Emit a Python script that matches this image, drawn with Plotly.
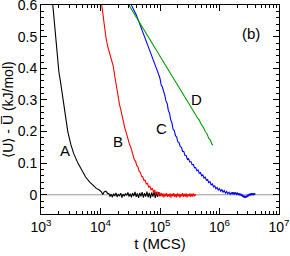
import plotly.graph_objects as go

# ---- data (log10 of t in MCS, and <U> - Ubar in kJ/mol) ----
logt_A = [3.17, 3.20, 3.23, 3.26, 3.28, 3.30, 3.33, 3.37, 3.41, 3.45, 3.50, 3.55, 3.62, 3.68, 3.75,
          3.82, 3.88, 3.93, 3.98, 4.01, 4.04, 4.06, 4.09, 4.12,
          4.14, 4.16, 4.18, 4.20, 4.22, 4.24, 4.26, 4.28, 4.30, 4.32, 4.34, 4.36, 4.38, 4.40, 4.42,
          4.44, 4.46, 4.48, 4.50, 4.52, 4.54, 4.56, 4.58, 4.60, 4.62, 4.64, 4.66, 4.68, 4.70, 4.72,
          4.74, 4.76, 4.78, 4.80, 4.82, 4.84, 4.86, 4.88, 4.90, 4.92, 4.94, 4.96, 4.98, 5.00]
dU_A = [0.66, 0.60, 0.53, 0.46, 0.42, 0.39, 0.355, 0.30, 0.25, 0.20, 0.16, 0.13, 0.10, 0.078, 0.056,
        0.040, 0.028, 0.020, 0.015, 0.010, 0.001, 0.009, 0.011, 0.004,
        0.004, -0.006, 0.002, -0.008, 0.003, -0.004, 0.006, -0.007, 0.001, -0.003, 0.005, -0.009, 0.002, -0.005, 0.004,
        -0.002, 0.007, -0.006, 0.003, -0.008, 0.005, -0.004, 0.009, -0.007, 0.004, -0.010, 0.006, -0.005, 0.008, -0.009,
        0.005, -0.006, 0.010, -0.008, 0.006, -0.011, 0.007, -0.006, 0.009, -0.010, 0.006, -0.007, 0.008, -0.005]

logt_B = [3.98, 4.02, 4.06, 4.09, 4.12, 4.15, 4.18, 4.215, 4.24, 4.26, 4.28, 4.30, 4.32, 4.34, 4.37, 4.41,
          4.43, 4.45, 4.47, 4.49, 4.51, 4.53, 4.55, 4.57, 4.59, 4.61, 4.63, 4.65, 4.67, 4.69, 4.71, 4.73,
          4.75, 4.77, 4.79, 4.81, 4.83, 4.85, 4.87, 4.89, 4.91, 4.93, 4.95, 4.97, 4.99,
          5.005, 5.02, 5.035, 5.05, 5.065, 5.08, 5.095, 5.11, 5.125, 5.14, 5.155, 5.17, 5.185, 5.20,
          5.215, 5.23, 5.245, 5.26, 5.275, 5.29, 5.305, 5.32, 5.335, 5.35, 5.365, 5.38, 5.395, 5.41,
          5.425, 5.44, 5.455, 5.47, 5.485, 5.50, 5.515, 5.53, 5.545, 5.56, 5.575, 5.59, 5.60]
dU_B = [0.66, 0.60, 0.54, 0.50, 0.47, 0.45, 0.425, 0.406, 0.375, 0.35, 0.325, 0.30, 0.285, 0.27, 0.24, 0.21,
        0.198, 0.182, 0.172, 0.158, 0.150, 0.135, 0.127, 0.110, 0.106, 0.092, 0.088, 0.074, 0.071, 0.058, 0.057, 0.045,
        0.046, 0.034, 0.036, 0.024, 0.027, 0.015, 0.021, 0.009, 0.015, 0.002, 0.010, -0.002, 0.007,
        -0.004, 0.006, -0.006, 0.004, -0.008, 0.003, -0.005, 0.005, -0.007, 0.002, -0.006, 0.004, -0.009, 0.003,
        -0.005, 0.005, -0.007, 0.002, -0.008, 0.004, -0.006, 0.003, -0.009, 0.002, -0.005, 0.005, -0.007, 0.003,
        -0.006, 0.004, -0.008, 0.002, -0.005, 0.004, -0.007, 0.003, -0.006, 0.004, -0.005, 0.002, -0.003]

logt_C = [4.50, 4.52, 4.56, 4.60, 4.66, 4.74, 4.80, 4.86, 4.90, 4.94, 4.97,
          5.00, 5.02, 5.04, 5.06, 5.08, 5.10, 5.12, 5.14, 5.16, 5.18, 5.20, 5.22, 5.24, 5.26, 5.28, 5.30,
          5.32, 5.34, 5.36, 5.38, 5.40, 5.42, 5.44, 5.46, 5.48, 5.50, 5.52, 5.54, 5.56, 5.58, 5.60, 5.62,
          5.64, 5.66, 5.68, 5.70, 5.72, 5.74, 5.76, 5.78, 5.80, 5.82, 5.84, 5.86, 5.88, 5.90, 5.92, 5.94,
          5.96, 5.98, 6.00, 6.02, 6.04, 6.06, 6.08, 6.10, 6.12, 6.14, 6.16, 6.18, 6.20,
          6.21, 6.22, 6.23, 6.24, 6.25, 6.26, 6.27, 6.28, 6.29, 6.30, 6.31, 6.32, 6.33, 6.34, 6.35, 6.36,
          6.37, 6.38, 6.39, 6.40, 6.41, 6.42, 6.43, 6.44, 6.45, 6.46, 6.47, 6.48, 6.49, 6.50, 6.51, 6.52,
          6.53, 6.54, 6.55, 6.56, 6.57, 6.58, 6.59, 6.60]
dU_C = [0.63, 0.60, 0.585, 0.57, 0.54, 0.50, 0.47, 0.445, 0.425, 0.406, 0.385,
        0.368, 0.347, 0.341, 0.322, 0.315, 0.297, 0.289, 0.267, 0.258, 0.237, 0.228, 0.207, 0.203, 0.187, 0.183, 0.167,
        0.165, 0.152, 0.150, 0.137, 0.137, 0.124, 0.124, 0.112, 0.114, 0.104, 0.105, 0.095, 0.096, 0.085, 0.086, 0.076,
        0.078, 0.068, 0.070, 0.060, 0.063, 0.053, 0.056, 0.046, 0.048, 0.038, 0.041, 0.031, 0.034, 0.025, 0.028, 0.019,
        0.023, 0.015, 0.019, 0.011, 0.016, 0.008, 0.013, 0.005, 0.010, 0.003, 0.008, 0.001, 0.007,
        0.002, 0.008, 0.001, 0.007, 0.000, 0.008, 0.002, 0.006, -0.001, 0.007, 0.001, 0.005, -0.002, 0.004, -0.003, 0.003,
        -0.004, 0.001, -0.007, -0.002, -0.009, -0.003, -0.010, -0.004, -0.009, -0.002, -0.007, 0.001, -0.005, 0.003, -0.003, 0.004,
        -0.002, 0.005, -0.001, 0.004, -0.002, 0.005, 0.000, 0.004]

logt_D = [4.35, 4.48, 4.62, 4.75, 4.88, 5.00, 5.10, 5.20, 5.30, 5.45, 5.55, 5.62, 5.66, 5.70, 5.73,
          5.76, 5.79, 5.82, 5.85, 5.87, 5.89]
dU_D = [0.64, 0.60, 0.557, 0.517, 0.477, 0.44, 0.41, 0.38, 0.348, 0.30, 0.268, 0.246, 0.236, 0.221, 0.213,
        0.200, 0.193, 0.178, 0.172, 0.161, 0.157]

curve_labels = ["A", "B", "C", "D"]
label_logt = [3.40, 4.29, 5.02, 5.62]
label_dU = [0.139, 0.170, 0.210, 0.300]

x_tick_exps = [3, 4, 5, 6, 7]
y_tick_vals = [0, 0.1, 0.2, 0.3, 0.4, 0.5, 0.6]
y_tick_text = ["0", "0.1", "0.2", "0.3", "0.4", "0.5", "0.6"]

FONT = "Liberation Sans, Arial, sans-serif"

fig = go.Figure()
series = [(logt_A, dU_A, "black"), (logt_B, dU_B, "#ff0000"),
          (logt_C, dU_C, "#0000ff"), (logt_D, dU_D, "#00a000")]
for lt, du, col in series:
    fig.add_trace(go.Scatter(x=[10 ** e for e in lt], y=du, mode="lines",
                             line=dict(color=col, width=1.1), showlegend=False,
                             hoverinfo="skip"))

# zero reference line
fig.add_shape(type="line", xref="paper", x0=0, x1=1, yref="y", y0=0, y1=0,
              line=dict(color="#999999", width=1.2), layer="below")

for lab, lx, ly in zip(curve_labels, label_logt, label_dU):
    fig.add_annotation(x=lx, y=ly, text=lab, showarrow=False,
                       font=dict(family=FONT, size=15, color="black"))

fig.add_annotation(xref="paper", yref="paper", x=0.93, y=0.914, text="(b)",
                   showarrow=False, font=dict(family=FONT, size=15, color="black"))

fig.update_xaxes(type="log", range=[3, 7], automargin=False, ticklabeloverflow="allow",
                 tickvals=[10 ** e for e in x_tick_exps],
                 ticktext=["10<sup>%d</sup>" % e for e in x_tick_exps],
                 ticks="inside", ticklen=6, tickcolor="black", tickwidth=1,
                 minor=dict(ticks="inside", ticklen=3, tickcolor="black", dtick="D1", showgrid=False),
                 showline=True, linecolor="black", linewidth=1, mirror="ticks",
                 showgrid=False, zeroline=False,
                 tickfont=dict(family=FONT, size=14, color="black"),
                 title=dict(text="t (MCS)", font=dict(family=FONT, size=15, color="black"), standoff=2))
fig.update_yaxes(range=[-0.061, 0.6005], automargin=False, ticklabeloverflow="allow",
                 tickvals=y_tick_vals, ticktext=y_tick_text,
                 ticks="inside", ticklen=6, tickcolor="black", tickwidth=1,
                 minor=dict(ticks="inside", ticklen=3, tickcolor="black", dtick=0.02, tick0=0, showgrid=False),
                 showline=True, linecolor="black", linewidth=1, mirror="ticks",
                 showgrid=False, zeroline=False,
                 tickfont=dict(family=FONT, size=14, color="black"),
                 title=dict(text="\u27e8U\u27e9 - U\u0305 (kJ/mol)",
                            font=dict(family=FONT, size=14, color="black"), standoff=2))

fig.update_layout(width=290, height=256, margin=dict(l=41, r=11, t=5, b=42),
                  plot_bgcolor="white", paper_bgcolor="white")

fig.write_html("out.html", config={"displayModeBar": False, "staticPlot": True},
               post_script="document.body.style.margin='0';document.body.style.padding='0';")
